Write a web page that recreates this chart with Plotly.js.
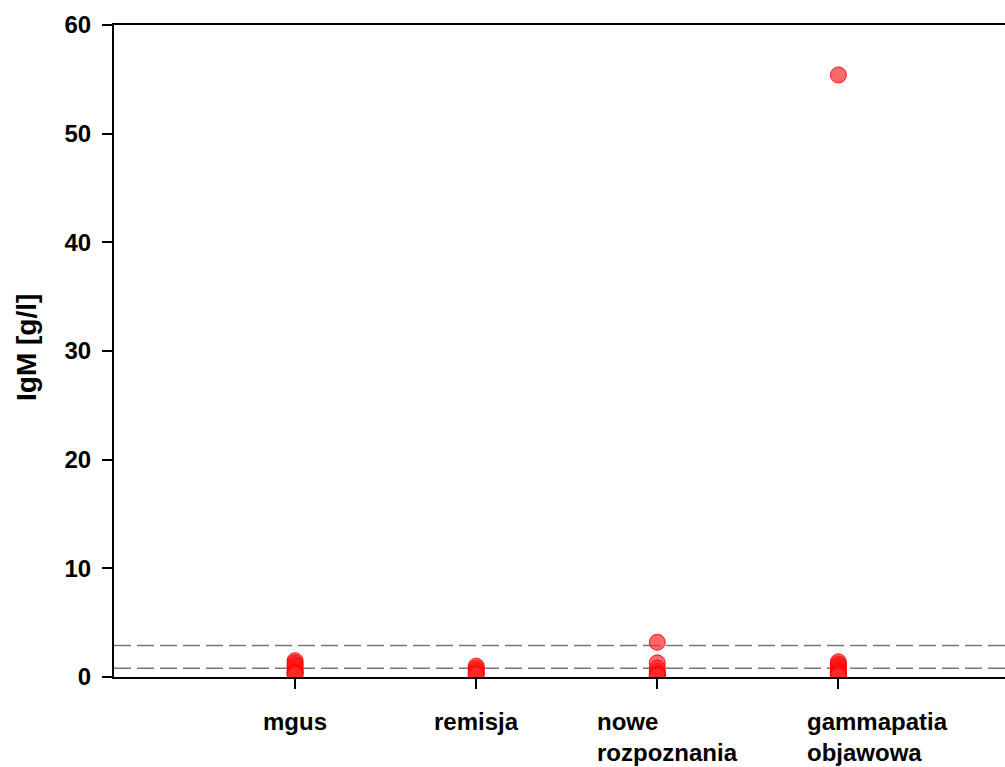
<!DOCTYPE html>
<html>
<head>
<meta charset="utf-8">
<script src="https://cdn.plot.ly/plotly-3.0.1.min.js"></script>
<style>
  html, body { margin: 0; padding: 0; background: #fff; }
  #igmPlot { width: 1005px; height: 767px; }
</style>
</head>
<body>
<div id="igmPlot"></div>
<script>
// groups on the x axis
const groupNames = ['mgus', 'remisja', 'nowe<br>rozpoznania', 'gammapatia<br>objawowa'];
const groupPos = [1, 2, 3, 4];

// IgM values [g/l], one list per group
const mgusValues = [1.5, 1.3, 1.1, 0.9, 0.7, 0.5, 0.4, 0.3, 0.2];
const remisjaValues = [1.0, 0.8, 0.6, 0.4, 0.3, 0.2];
const noweValues = [3.2, 1.3, 0.8, 0.5, 0.3, 0.2, 0.1];
const gammaValues = [55.4, 1.4, 1.2, 1.0, 0.8, 0.6, 0.5, 0.4, 0.3, 0.2, 0.1];

// reference range (dashed lines)
const refLines = [0.8, 2.9];

const fontFamily = 'Liberation Sans, Arial, sans-serif';

function makeGroupTrace(pos, values) {
    return {
        x: values.map(() => pos),
        y: values,
        mode: 'markers',
        type: 'scatter',
        marker: {
            size: 16,
            color: 'rgba(255, 40, 40, 0.7)',
            line: { color: 'rgba(255, 0, 0, 0.85)', width: 1 }
        },
        hoverinfo: 'y',
        showlegend: false
    };
}

// category labels: multi-line ones are left aligned and sit a bit right of the tick
function makeGroupLabels() {
    const shifts = [0, 0, 10, 39];
    return groupNames.map((name, i) => ({
        text: name,
        x: groupPos[i],
        xref: 'x',
        y: 0,
        yref: 'paper',
        xanchor: 'center',
        yanchor: 'top',
        align: 'left',
        showarrow: false,
        xshift: shifts[i],
        yshift: -29,
        font: { family: fontFamily, size: 24, weight: 'bold', color: '#000' }
    }));
}

function renderChart() {
    const allValues = [mgusValues, remisjaValues, noweValues, gammaValues];
    const traces = allValues.map((vals, i) => makeGroupTrace(groupPos[i], vals));

    const shapes = refLines.map(v => ({
        type: 'line',
        xref: 'paper', yref: 'y',
        x0: 0, x1: 1, y0: v, y1: v,
        line: { color: '#777', width: 1.5, dash: '17px,6px' },
        layer: 'below'
    }));

    const annotations = makeGroupLabels();
    // y axis title
    annotations.push({
        text: 'IgM [g/l]',
        x: 0, xref: 'paper',
        y: 0.5, yref: 'paper',
        xanchor: 'center', yanchor: 'middle',
        xshift: -88,
        yshift: 3,
        textangle: -90,
        showarrow: false,
        font: { family: fontFamily, size: 28, weight: 'bold', color: '#000' }
    });

    const layout = {
        width: 1005,
        height: 767,
        margin: { l: 114, r: 0, t: 25, b: 90 },
        paper_bgcolor: '#fff',
        plot_bgcolor: '#fff',
        font: { family: fontFamily, size: 24, color: '#000' },
        xaxis: {
            range: [0, 4.92],
            tickvals: groupPos,
            showticklabels: false,
            ticks: 'outside',
            ticklen: 10,
            tickwidth: 2,
            tickcolor: '#000',
            showline: true,
            linewidth: 2,
            linecolor: '#000',
            mirror: true,
            showgrid: false,
            zeroline: false
        },
        yaxis: {
            range: [0, 60],
            dtick: 10,
            ticks: 'outside',
            ticklen: 10,
            tickwidth: 2,
            tickcolor: '#000',
            ticklabelstandoff: 6,
            showline: true,
            linewidth: 2,
            linecolor: '#000',
            showgrid: false,
            zeroline: false,
            tickfont: { family: fontFamily, size: 24, weight: 'bold' }
        },
        shapes: shapes,
        annotations: annotations
    };

    Plotly.newPlot('igmPlot', traces, layout, { staticPlot: true });
}

renderChart();
</script>
</body>
</html>
